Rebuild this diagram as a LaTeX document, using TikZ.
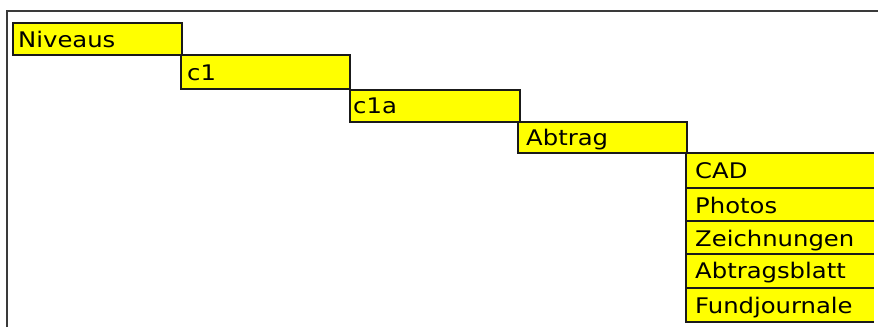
\documentclass[tikz,border=0pt]{standalone}
\usepackage{fontspec}
\setmainfont{DejaVu Sans}
\definecolor{boxyellow}{HTML}{FFFF00}
\definecolor{linecol}{HTML}{1A1A1A}
\definecolor{framecol}{HTML}{3A3A3A}
\tikzset{
  cell/.style={draw=linecol, line width=1.8pt, fill=boxyellow, anchor=north west, inner sep=0pt, outer sep=0pt, minimum height=#1},
  cell/.default=32pt,
  lbl/.style={anchor=base west, inner sep=0pt, font=\fontsize{21.5}{25}\selectfont, text=black},
  frameline/.style={draw=framecol, line width=1.4pt}
}
\newcommand{\wtext}[1]{\scalebox{1.13}[1]{#1}}
\begin{document}
\begin{tikzpicture}[x=1pt,y=-1pt]
\useasboundingbox (0,0) rectangle (878,327);
\fill[white] (0,0) rectangle (878,327);
\draw[frameline] (7,327) -- (7,11) -- (878,11);
% staircase
\node[cell, minimum width=169pt] (niv) at (13,23) {};
\node[lbl] (nivt) at ([xshift=5pt,yshift=-24pt]niv.north west) {\wtext{Niveaus}};
\node[cell, minimum width=169pt, minimum height=34pt] (c1) at (181,55) {};
\node[lbl] (c1t) at ([xshift=6pt,yshift=-25pt]c1.north west) {\wtext{c1}};
\node[cell, minimum width=170pt] (c1a) at (350,90) {};
\node[lbl] (c1at) at ([xshift=3pt,yshift=-23pt]c1a.north west) {\wtext{c1a}};
\node[cell, minimum width=169pt, minimum height=31pt] (abt) at (518,122) {};
\node[lbl] (abtt) at ([xshift=8pt,yshift=-23pt]abt.north west) {\wtext{Abtrag}};
% right column
\node[cell, minimum width=200pt, minimum height=35pt] (cad) at (686,153) {};
\node[lbl] (cadt) at ([xshift=9pt,yshift=-25pt]cad.north west) {\wtext{CAD}};
\node[cell, minimum width=200pt, minimum height=33pt] (pho) at (686,188) {};
\node[lbl] (phot) at ([xshift=9pt,yshift=-25pt]pho.north west) {\wtext{Photos}};
\node[cell, minimum width=200pt, minimum height=33pt] (zei) at (686,221) {};
\node[lbl] (zeit) at ([xshift=9pt,yshift=-25pt]zei.north west) {\wtext{Zeichnungen}};
\node[cell, minimum width=200pt, minimum height=34pt] (abb) at (686,254) {};
\node[lbl] (abbt) at ([xshift=9pt,yshift=-24pt]abb.north west) {\wtext{Abtragsblatt}};
\node[cell, minimum width=200pt, minimum height=34pt] (fun) at (686,288) {};
\node[lbl] (funt) at ([xshift=9pt,yshift=-25pt]fun.north west) {\wtext{Fundjournale}};
% white strip at right edge (column is cut off)
\fill[white] (874,140) rectangle (880,330);
\end{tikzpicture}
\end{document}
